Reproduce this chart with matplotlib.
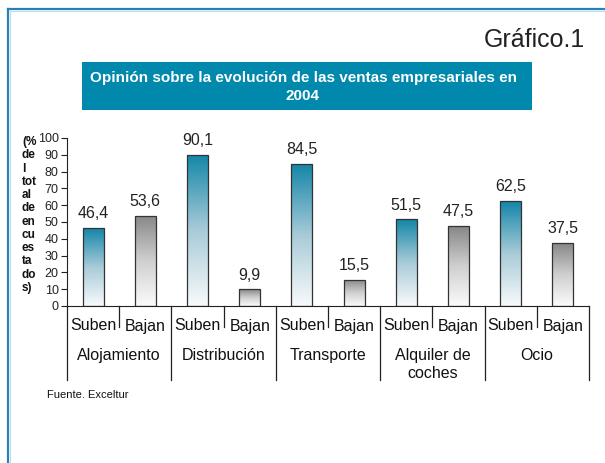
import matplotlib.pyplot as plt
import numpy as np
from matplotlib.colors import LinearSegmentedColormap
from matplotlib.patches import Rectangle
from matplotlib.lines import Line2D
import matplotlib.transforms as mtransforms

plt.rcParams['font.family'] = ['Liberation Sans', 'DejaVu Sans']

CATEGORIES = ["Alojamiento", "Distribución", "Transporte", "Alquiler de\ncoches", "Ocio"]
SUB_LABELS = ["Suben", "Bajan"]
SUBEN = [46.4, 90.1, 84.5, 51.5, 62.5]
BAJAN = [53.6, 9.9, 15.5, 47.5, 37.5]
Y_TICKS = list(range(0, 101, 10))

TEAL = "#1386a8"
GRAY = "#878787"
FRAME = "#2a80b6"

W, H = 605, 463
fig = plt.figure(figsize=(W / 100, H / 100), dpi=100)

# frame lines (top and left)
fig.add_artist(Line2D([8 / W, 8 / W], [0, 1 - 9 / H], color=FRAME, lw=1.6))
fig.add_artist(Line2D([8 / W, 1], [1 - 9 / H, 1 - 9 / H], color=FRAME, lw=1.6))
fig.add_artist(Line2D([9.6 / W, 9.6 / W], [0, 1 - 10.6 / H], color="#b9dcef", lw=0.8))
fig.add_artist(Line2D([9.6 / W, 1], [1 - 10.6 / H, 1 - 10.6 / H], color="#b9dcef", lw=0.8))

fig.text(585 / W, 1 - 40 / H, "Gráfico.1", ha="right", va="center", fontsize=18, color="#222222")

# title box
fig.add_artist(Rectangle((82 / W, 1 - 110 / H), 450 / W, 48 / H, transform=fig.transFigure,
                         facecolor="#0089ac", edgecolor="none"))
fig.text(303 / W, 1 - 87 / H, "Opinión sobre la evolución de las ventas empresariales en\n2004",
         ha="center", va="center", fontsize=11, fontweight="bold", color="white", linespacing=1.4)

ax = fig.add_axes([67 / W, 1 - 306 / H, 522 / W, 168 / H])
ax.set_xlim(0, 10)
ax.set_ylim(0, 100)
for s in ["top", "right"]:
    ax.spines[s].set_visible(False)
ax.spines["left"].set_color("#222222")
ax.spines["bottom"].set_color("#222222")
ax.set_xticks([])
ax.set_yticks(Y_TICKS)
ax.tick_params(axis="y", direction="out", length=4, width=0.8, labelsize=9, pad=2, colors="#222222")

cmap_teal = LinearSegmentedColormap.from_list("teal", ["#f8fafb", "#a8cbd8", TEAL])
cmap_gray = LinearSegmentedColormap.from_list("gray", ["#fbfbfb", "#cfcfcf", GRAY])
grad = np.linspace(0, 1, 256).reshape(-1, 1)

values = []
for su, ba in zip(SUBEN, BAJAN):
    values += [(su, cmap_teal), (ba, cmap_gray)]

bw = 0.4
for i, (v, cm) in enumerate(values):
    xc = i + 0.5
    bars = ax.bar(xc, v, width=bw, facecolor="none", edgecolor="#333333", linewidth=0.9, zorder=3)
    rect = bars.patches[0]
    im = ax.imshow(grad, cmap=cm, extent=(xc - bw / 2, xc + bw / 2, 0, v), origin="lower",
                   aspect="auto", zorder=2)
    im.set_clip_path(rect)
    ax.text(xc, v + 4, f"{v:.1f}".replace(".", ","), ha="center", va="bottom", fontsize=11.5,
            color="#222222")
ax.set_xlim(0, 10)
ax.set_ylim(0, 100)

# category dividers and labels below the axis
trans = mtransforms.blended_transform_factory(ax.transData, ax.transAxes)
px = 1 / 168
for k in range(11):
    big = k % 2 == 0
    y1 = -74 * px if big else -21 * px
    ax.add_line(Line2D([k, k], [0, y1], transform=trans, color="#222222", lw=0.9, clip_on=False))
for i in range(10):
    ax.text(i + 0.5, -20 * px, SUB_LABELS[i % 2], transform=trans, ha="center", va="center",
            fontsize=11.5, color="#111111")
for j, c in enumerate(CATEGORIES):
    ax.text(2 * j + 1, -42 * px, c, transform=trans, ha="center", va="top",
            fontsize=11.5, color="#111111", linespacing=1.25)

fig.text(22 / W, 1 - 136 / H, "\n".join(["(%", "de", "l", "tot", "al", "de", "en", "cu", "es", "ta", "do", "s)"]),
         ha="left", va="top", fontsize=8.5, fontweight="bold", color="#111111", linespacing=1.14)

fig.text(47 / W, 1 - 395 / H, "Fuente. Exceltur", ha="left", va="center", fontsize=8, color="#111111")

fig.savefig("out.png", dpi=100)
